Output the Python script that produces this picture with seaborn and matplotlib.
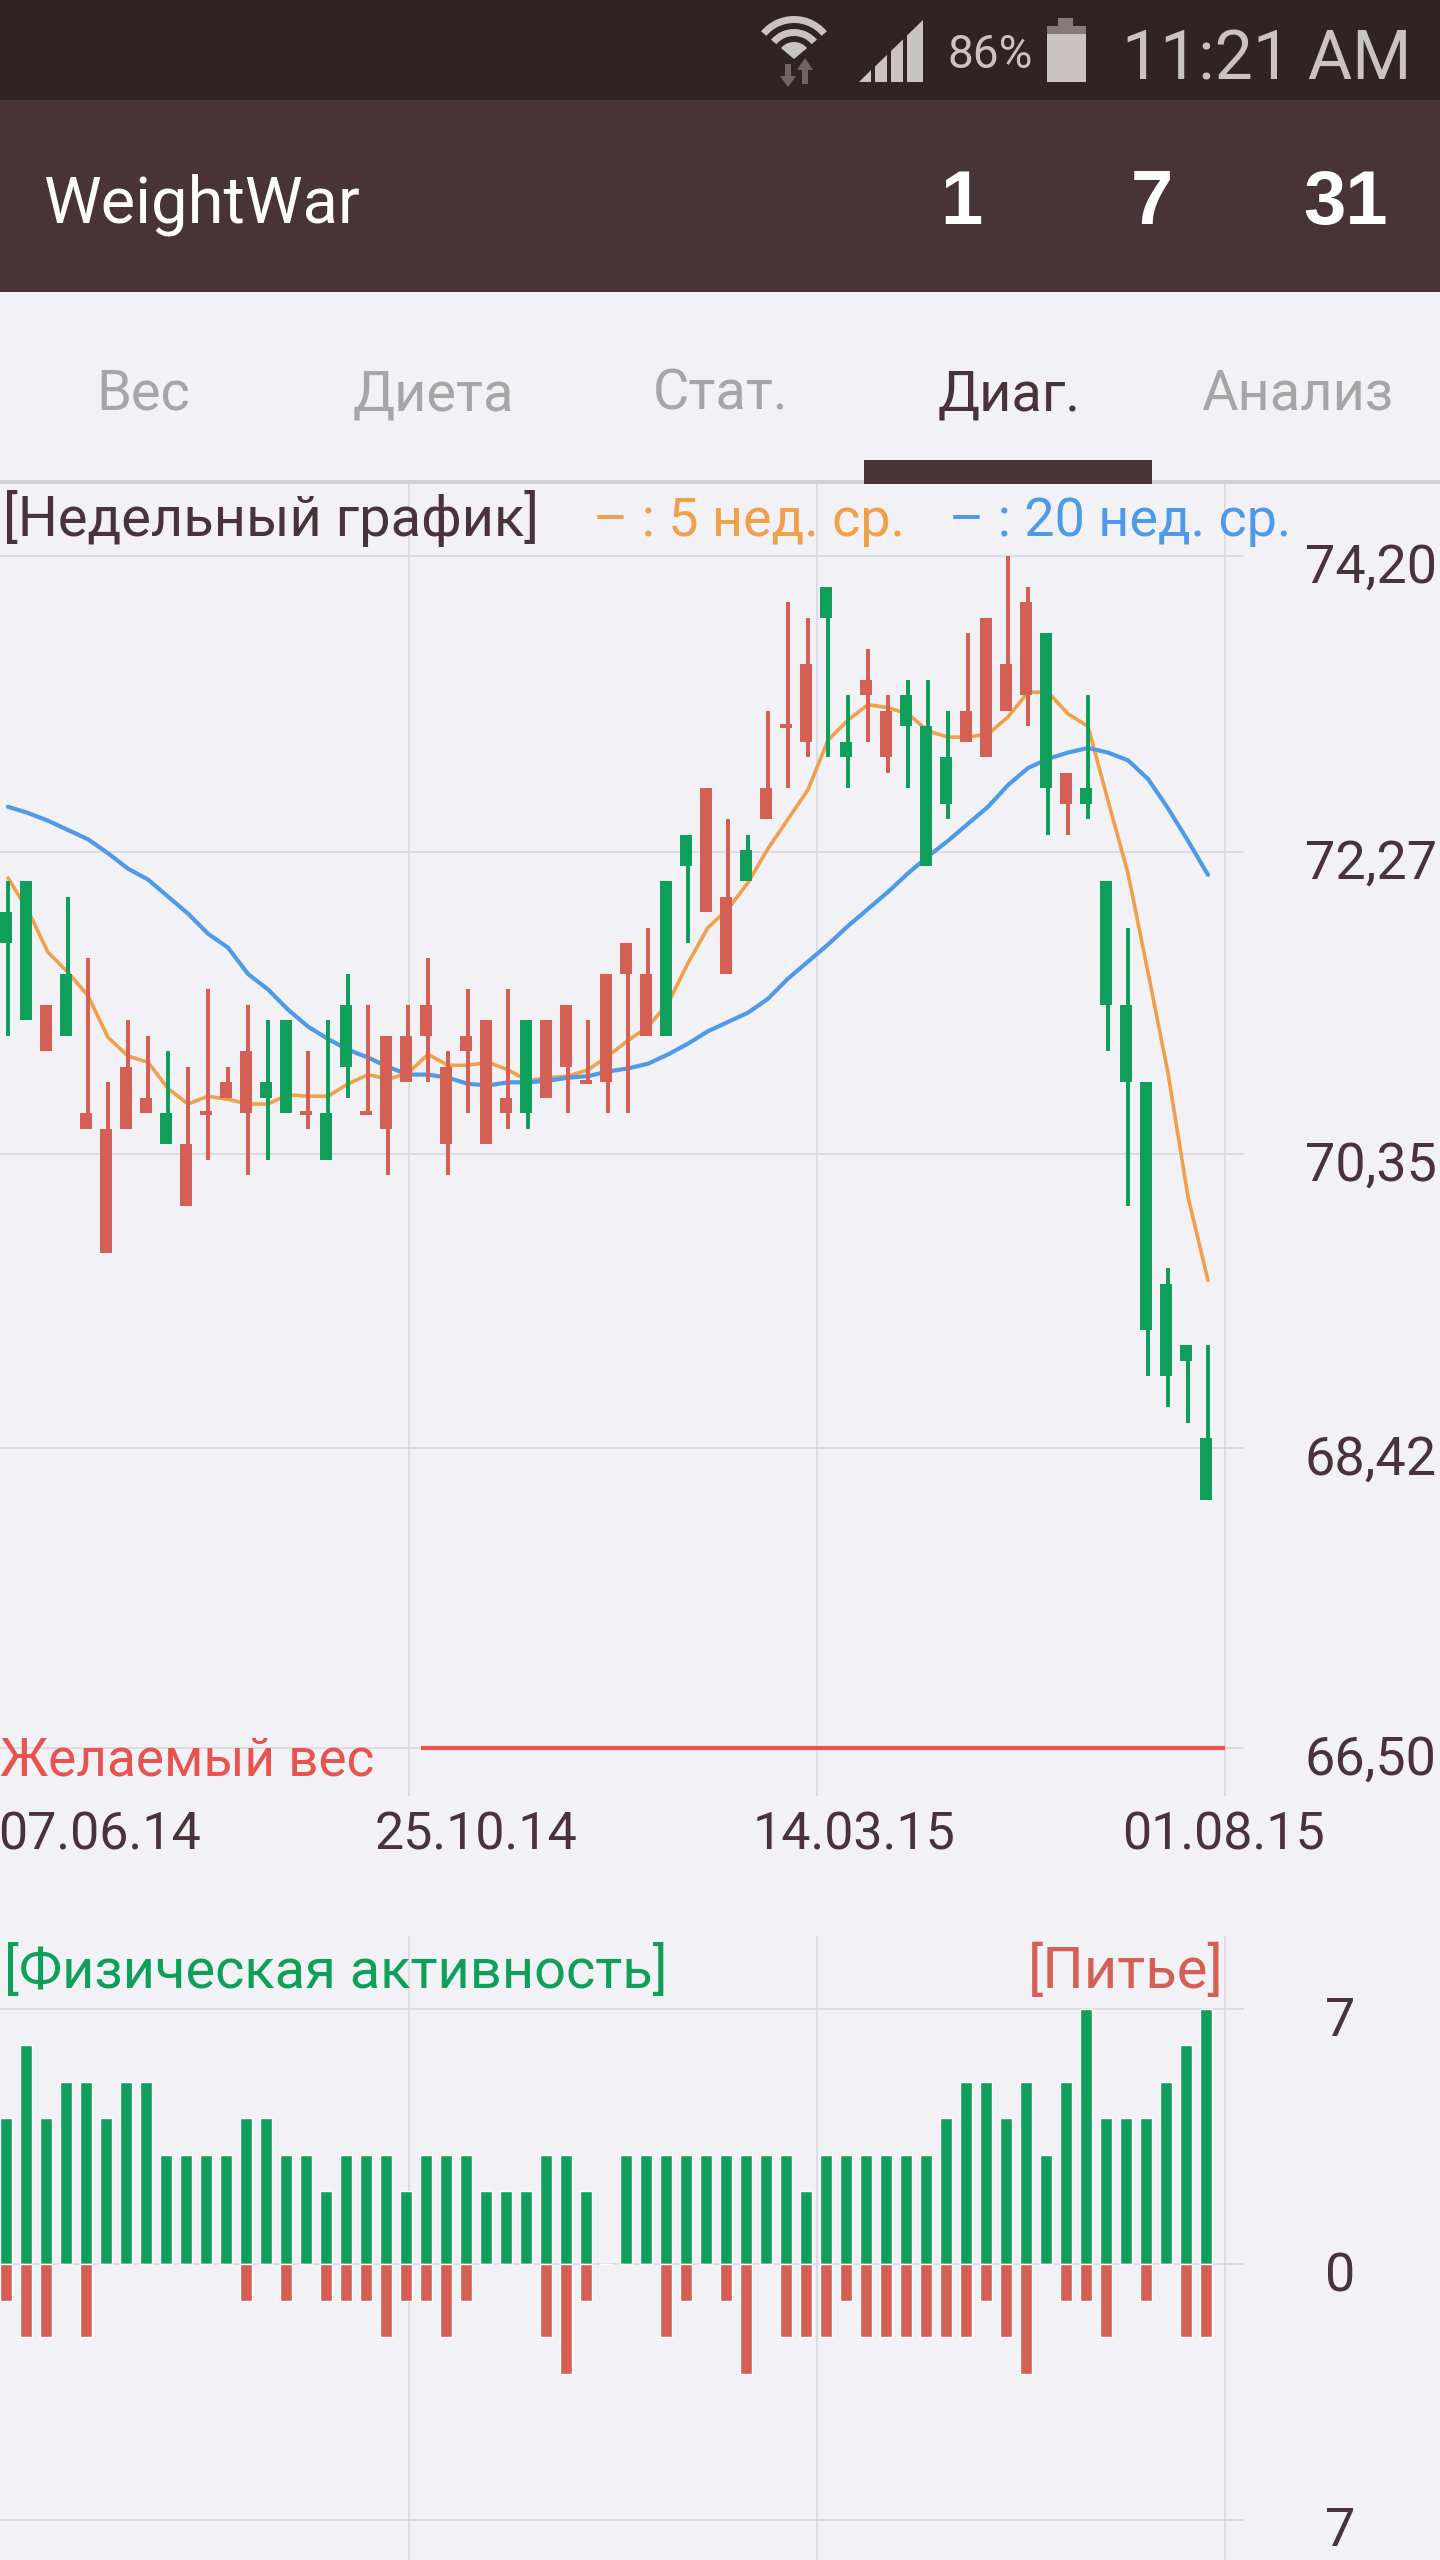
import numpy as np
import seaborn as sns
import matplotlib.pyplot as plt
from matplotlib.patches import Rectangle, Wedge, Polygon
from matplotlib.transforms import ScaledTranslation

# weekly candles, kg
body_top = [71.9, 72.1, 71.3, 71.5, 70.6, 70.5, 70.9, 70.7, 70.6, 70.4, 70.6, 70.8, 71.0, 70.8, 71.2, 70.6,
            70.6, 71.3, 70.6, 71.1, 71.1, 71.3, 70.9, 71.1, 71.2, 70.7, 71.2, 71.2, 71.3, 70.8, 71.5, 71.7,
            71.5, 72.1, 72.4, 72.7, 72.0, 72.3, 72.7, 73.1, 73.5, 74.0, 73.0, 73.4, 73.2, 73.3, 73.1, 72.9,
            73.2, 73.8, 73.5, 73.9, 73.7, 72.8, 72.7, 72.1, 71.3, 70.8, 69.5, 69.1, 68.5]
body_bottom = [71.7, 71.2, 71.0, 71.1, 70.5, 69.7, 70.5, 70.6, 70.4, 70.0, 70.6, 70.7, 70.6, 70.7, 70.6, 70.6,
               70.3, 70.9, 70.6, 70.5, 70.8, 71.1, 70.4, 71.0, 70.4, 70.6, 70.6, 70.7, 70.9, 70.8, 70.8, 71.5,
               71.1, 71.1, 72.2, 71.9, 71.5, 72.1, 72.5, 73.1, 73.0, 73.8, 72.9, 73.3, 72.9, 73.1, 72.2, 72.6,
               73.0, 72.9, 73.2, 73.3, 72.7, 72.6, 72.6, 71.3, 70.8, 69.2, 68.9, 69.0, 68.1]
wick_high = [72.1, 72.1, 71.3, 72.0, 71.6, 70.8, 71.2, 71.1, 71.0, 70.9, 71.4, 70.9, 71.3, 71.2, 71.2, 71.0,
             71.2, 71.5, 71.3, 71.1, 71.3, 71.6, 71.0, 71.4, 71.2, 71.4, 71.2, 71.2, 71.3, 71.2, 71.5, 71.7,
             71.8, 72.1, 72.4, 72.7, 72.5, 72.4, 73.2, 73.9, 73.8, 74.0, 73.3, 73.6, 73.3, 73.4, 73.4, 73.2,
             73.7, 73.8, 74.2, 74.0, 73.7, 72.8, 73.3, 72.1, 71.8, 70.8, 69.6, 69.1, 69.1]
wick_low = [71.1, 71.2, 71.0, 71.1, 70.5, 69.7, 70.5, 70.6, 70.4, 70.0, 70.3, 70.7, 70.2, 70.3, 70.6, 70.5,
            70.3, 70.7, 70.6, 70.2, 70.8, 70.8, 70.2, 70.6, 70.4, 70.5, 70.5, 70.7, 70.6, 70.8, 70.6, 70.6,
            71.1, 71.1, 71.7, 71.9, 71.5, 72.1, 72.5, 72.7, 72.9, 72.9, 72.7, 73.0, 72.8, 72.7, 72.2, 72.5,
            73.0, 72.9, 73.2, 73.1, 72.4, 72.4, 72.5, 71.0, 70.0, 68.9, 68.7, 68.6, 68.1]
falling_weeks = [0, 1, 3, 8, 13, 14, 16, 17, 26, 33, 34, 37, 41, 42, 45, 46, 47, 52, 54, 55, 56, 57, 58, 59, 60]

avg_5 = [72.12, 71.91, 71.64, 71.51, 71.36, 71.09, 70.97, 70.93, 70.76, 70.66, 70.71, 70.69, 70.66, 70.66, 70.72,
         70.71, 70.71, 70.79, 70.85, 70.82, 70.86, 70.98, 70.91, 70.91, 70.93, 70.88, 70.81, 70.83, 70.84, 70.88,
         70.97, 71.07, 71.16, 71.31, 71.57, 71.80, 71.92, 72.09, 72.31, 72.50, 72.69, 73.01, 73.14, 73.24, 73.22,
         73.18, 73.07, 73.03, 73.03, 73.05, 73.16, 73.32, 73.32, 73.18, 73.10, 72.62, 72.15, 71.51, 70.86, 70.06,
         69.52]
avg_20 = [72.58, 72.54, 72.49, 72.43, 72.37, 72.28, 72.18, 72.11, 72.00, 71.89, 71.76, 71.67, 71.50, 71.40, 71.27,
          71.16, 71.08, 71.01, 70.96, 70.90, 70.85, 70.85, 70.83, 70.79, 70.78, 70.80, 70.80, 70.81, 70.83, 70.84,
          70.87, 70.89, 70.92, 70.98, 71.05, 71.13, 71.19, 71.25, 71.34, 71.47, 71.58, 71.69, 71.81, 71.92, 72.03,
          72.15, 72.26, 72.36, 72.47, 72.58, 72.72, 72.83, 72.89, 72.93, 72.96, 72.93, 72.88, 72.76, 72.57, 72.36,
          72.14]
target_weight = 66.5

activity = [4, 6, 4, 5, 5, 4, 5, 5, 3, 3, 3, 3, 4, 4, 3, 3, 2, 3, 3, 3, 2, 3, 3, 3, 2, 2, 2, 3, 3, 2, 0,
            3, 3, 3, 3, 3, 3, 3, 3, 3, 2, 3, 3, 3, 3, 3, 3, 4, 5, 5, 4, 5, 3, 5, 7, 4, 4, 4, 5, 6, 7]
drinks = [1, 2, 2, 0, 2, 0, 0, 0, 0, 0, 0, 0, 1, 0, 1, 0, 1, 1, 1, 2, 1, 1, 2, 1, 0, 0, 0, 2, 3, 1, 0,
          0, 0, 2, 1, 0, 1, 3, 0, 2, 2, 2, 1, 2, 2, 2, 2, 2, 2, 1, 2, 3, 0, 1, 1, 2, 0, 1, 0, 2, 2]

# the app's grid sits a touch off its printed values
weight_ticks = [74.20, 72.29, 70.34, 68.44, 66.50]
weight_labels = ["74,20", "72,27", "70,35", "68,42", "66,50"]
count_ticks = [7, 0, -7]
count_labels = ["7", "0", "7"]
date_labels = ["07.06.14", "25.10.14", "14.03.15", "01.08.15"]
tab_names = ["Вес", "Диета", "Стат.", "Диаг.", "Анализ"]

BG = "#f2f2f6"
GRID = "#d6d6dc"
DARK = "#48333a"
BAR_DARK = "#483336"
STATUS = "#2f2324"
GREEN = "#109f5a"
RED = "#d45f55"
ORANGE = "#f0a04b"
BLUE = "#4f9ae8"
ICON = "#c9c4c2"
W, H = 1440, 2560


def fs(px):
    return px * 0.72


sns.set_theme(style="white")
plt.rcParams["font.family"] = ["Roboto", "DejaVu Sans"]

fig = plt.figure(figsize=(W / 100, H / 100), dpi=100, facecolor=BG)

# screen chrome in pixel coordinates
ui = fig.add_axes([0, 0, 1, 1], zorder=0)
ui.set_xlim(0, W)
ui.set_ylim(H, 0)
ui.axis("off")
ui.add_patch(Rectangle((0, 0), W, 100, color=STATUS, lw=0))
ui.add_patch(Rectangle((0, 100), W, 192, color=BAR_DARK, lw=0))
ui.add_patch(Rectangle((0, 480), W, 4, color="#cfcfd4", lw=0))
ui.add_patch(Rectangle((864, 460), 288, 24, color=BAR_DARK, lw=0))

for r_out, r_w in [(43, 7), (30, 7), (17, 17)]:
    ui.add_patch(Wedge((794, 59), r_out, 220, 320, width=r_w, color=ICON, lw=0))
ui.add_patch(Polygon([(785, 64), (791, 64), (791, 76), (796, 76), (788, 87), (780, 76), (785, 76)],
                     color="#6e6564", lw=0))
ui.add_patch(Polygon([(802, 84), (808, 84), (808, 70), (813, 70), (805, 58), (797, 70), (802, 70)],
                     color="#6e6564", lw=0))
for a, b in [(859, 871), (875, 887), (891, 903), (907, 923)]:
    top_a = 82 - (a - 859) * 62 / 64
    top_b = 82 - (b - 859) * 62 / 64
    ui.add_patch(Polygon([(a, 82), (b, 82), (b, top_b), (a, top_a)], color=ICON, lw=0))
ui.add_patch(Rectangle((1058, 18), 15, 8, color="#85797a", lw=0))
ui.add_patch(Rectangle((1047, 26), 39, 8, color="#85797a", lw=0))
ui.add_patch(Rectangle((1047, 34), 39, 48, color=ICON, lw=0))


def put(px, py, text, size, color, ha="left", va="baseline", **kw):
    fig.text(px / W, 1 - py / H, text, fontsize=fs(size), color=color, ha=ha, va=va, **kw)


put(948, 68, "86%", 46, ICON)
put(1122, 79, "11:21 AM", 68, ICON)
put(43, 223, "WeightWar", 65, "white")
for px, num in zip([961, 1152, 1346], ["1", "7", "31"]):
    put(px, 224, num, 76, "white", ha="center", family="Liberation Sans", fontweight="bold")
for px, name in zip([143, 433, 720, 1009, 1297], tab_names):
    put(px, 410, name, 56, DARK if name == "Диаг." else "#a6a6a6", ha="center")

put(3, 536, "[Недельный график]", 56, DARK)
put(593, 536, "– : 5 нед. ср.", 54, ORANGE)
put(949, 536, "– : 20 нед. ср.", 54, BLUE)
put(0, 1776, "Желаемый вес", 53, "#e8524f")
for px, label in zip([-2, 375, 753, 1122], date_labels):
    put(px, 1850, label, 52, DARK)
put(4, 1988, "[Физическая активность]", 56, GREEN)
put(1224, 1988, "[Питье]", 58, RED, ha="right")

# chart axes: x runs in weeks, 20 px a week
x_left = -0.3
x_right = 61.9
grid_weeks = [20.15, 40.55, 60.95]

ax = fig.add_axes([0, 1 - 1796 / H, 1244 / W, (1796 - 484) / H], zorder=1)
ax2 = fig.add_axes([0, 0, 1244 / W, (H - 1936) / H], zorder=1)

weeks = np.arange(len(body_top))
top = np.array(body_top)
bottom = np.array(body_bottom)
colors = [GREEN if i in falling_weeks else RED for i in weeks]
heights = np.maximum(top - bottom, 0.026)
starts = np.where(top == bottom, top - 0.013, bottom)

sns.lineplot(x=weeks + 0.1, y=avg_5, color=ORANGE, linewidth=2.6, ax=ax, zorder=2)
sns.lineplot(x=weeks + 0.1, y=avg_20, color=BLUE, linewidth=3.0, ax=ax, zorder=2)
ax.bar(weeks + 0.1, np.array(wick_high) - np.array(wick_low), bottom=wick_low, width=0.2,
       color=colors, linewidth=0, zorder=3)
ax.bar(weeks, heights, bottom=starts, width=0.6, color=colors, linewidth=0, zorder=3)
ax.hlines(target_weight, 20.75, 60.95, color="#e8524f", linewidth=3.0, zorder=2)
ax.set_ylim(74.2 - (1796 - 556) / 154.8, 74.2 + (556 - 484) / 154.8)

sns.barplot(x=weeks, y=activity, native_scale=True, width=0.6, color=GREEN, saturation=1, ax=ax2, zorder=3)
sns.barplot(x=weeks, y=-np.array(drinks), native_scale=True, width=0.6, color=RED, saturation=1, ax=ax2, zorder=3)
ax2.set_ylim(-(H - 2264) / 36.5, (2264 - 1936) / 36.5)

for a, ticks, labels in [(ax, weight_ticks, weight_labels), (ax2, count_ticks, count_labels)]:
    a.set_facecolor("none")
    a.set_xlim(x_left, x_right)
    a.set_xticks(grid_weeks)
    a.set_xticklabels([])
    a.set_yticks(ticks)
    a.set_yticklabels(labels)
    a.set_xlabel("")
    a.set_ylabel("")
    a.yaxis.tick_right()
    a.grid(True, color=GRID, linewidth=1.1)
    a.set_axisbelow(True)
    a.tick_params(axis="both", length=0)
    sns.despine(ax=a, left=True, bottom=True, right=True, top=True)

down = ScaledTranslation(0, -7 / 100, fig.dpi_scale_trans)
ax.tick_params(axis="y", pad=fs(61), labelsize=fs(54), labelcolor=DARK)
ax2.tick_params(axis="y", pad=fs(96), labelsize=fs(54), labelcolor=DARK)
for label in ax.get_yticklabels():
    label.set_transform(label.get_transform() + down)
for label in ax2.get_yticklabels():
    label.set_horizontalalignment("center")
    label.set_transform(label.get_transform() + down)

fig.savefig("out.png", dpi=100, facecolor=BG)
plt.close(fig)
